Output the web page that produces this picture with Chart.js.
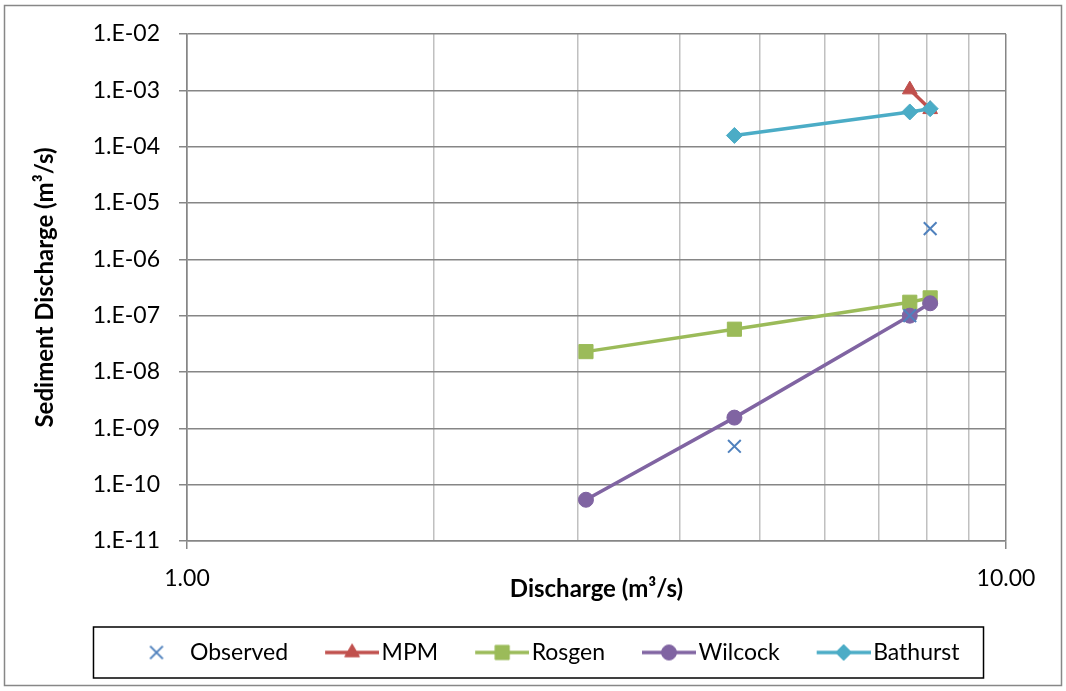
<!DOCTYPE html>
<html>
<head>
<meta charset="utf-8">
<script src="https://cdn.jsdelivr.net/npm/chart.js@4.4.1/dist/chart.umd.min.js"></script>
<style>
  html, body { margin: 0; padding: 0; background: #fff; }
  #wrap { width: 1066px; height: 691px; position: relative; }
</style>
</head>
<body>
<div id="wrap"><canvas id="chart" width="1066" height="691"></canvas></div>
<script>
// discharge (m3/s) shared by all series
const discharge = [3.07, 4.66, 7.63, 8.08];

// sediment discharge (m3/s), null = no value
const observed = [null, 4.8e-10, 1.0e-7, 3.5e-6];
const mpm      = [null, null, 1.03e-3, 4.6e-4];
const rosgen   = [2.3e-8, 5.75e-8, 1.73e-7, 2.07e-7];
const wilcock  = [5.4e-11, 1.55e-9, 1.0e-7, 1.66e-7];
const bathurst = [null, 1.58e-4, 4.13e-4, 4.72e-4];

const seriesNames = ['Observed', 'MPM', 'Rosgen', 'Wilcock', 'Bathurst'];

// axis ticks
const xTickValues = [1, 2, 3, 4, 5, 6, 7, 8, 9, 10];
const xTickLabels = { 1: '1.00', 10: '10.00' };
const yExponents = [-11, -10, -9, -8, -7, -6, -5, -4, -3, -2];

const toPoints = ys => discharge
  .map((x, i) => ({ x: x, y: ys[i] }))
  .filter(p => p.y !== null);

const isMajorX = v => v === 1 || v === 10;

// картинка для легенды: линия + маркер
function legendIcon(style, color, radius, withLine) {
  const c = document.createElement('canvas');
  c.width = 90;
  c.height = 22;
  const ctx = c.getContext('2d');
  ctx.strokeStyle = color;
  ctx.fillStyle = color;
  let cx = 59;
  if (withLine) {
    ctx.lineWidth = 3.5;
    ctx.beginPath();
    ctx.moveTo(36, 11);
    ctx.lineTo(90, 11);
    ctx.stroke();
    cx = 63;
  }
  ctx.lineWidth = withLine ? 1 : 2;
  Chart.helpers.drawPoint(ctx, { pointStyle: style, radius: radius, rotation: 0, borderWidth: ctx.lineWidth }, cx, 11);
  return c;
}

const frame = {
  id: 'frame',
  beforeDraw(chart) {
    const ctx = chart.ctx;
    ctx.save();
    ctx.fillStyle = '#fff';
    ctx.fillRect(0, 0, chart.width, chart.height);
    ctx.strokeStyle = '#878787';
    ctx.lineWidth = 1.5;
    ctx.strokeRect(4.5, 5.5, 1057, 680);
    ctx.restore();
  },
  afterDraw(chart) {
    const lg = chart.legend;
    if (!lg || !lg.legendHitBoxes.length) return;
    const boxes = lg.legendHitBoxes;
    const left = Math.min(...boxes.map(b => b.left)) - 13;
    const right = Math.max(...boxes.map(b => b.left + b.width)) + 24;
    const ctx = chart.ctx;
    ctx.save();
    ctx.strokeStyle = '#000';
    ctx.lineWidth = 1.5;
    ctx.strokeRect(left, lg.top - 4, right - left, lg.height + 8);
    ctx.restore();
  }
};

function draw() {
  Chart.defaults.font.family = 'Lato, "Open Sans", sans-serif';
  Chart.defaults.font.size = 23;
  Chart.defaults.color = '#000';

  const styles = [
    { data: observed, color: '#4F81BD', style: 'crossRot', r: 9, line: false, order: 0 },
    { data: mpm,      color: '#C0504D', style: 'triangle', r: 8.5, line: true, order: 4 },
    { data: rosgen,   color: '#9BBB59', style: 'rect',     r: 10, line: true, order: 3 },
    { data: wilcock,  color: '#8064A2', style: 'circle',   r: 7.5, line: true, order: 2 },
    { data: bathurst, color: '#4BACC6', style: 'rectRot',  r: 8, line: true, order: 1 }
  ];

  const icons = styles.map(s => legendIcon(s.style, s.color, s.r, s.line));

  const datasets = styles.map((s, i) => ({
    label: seriesNames[i],
    data: toPoints(s.data),
    showLine: s.line,
    borderColor: s.color,
    backgroundColor: s.color,
    borderWidth: 3.5,
    pointStyle: s.style,
    pointRadius: s.r,
    pointHoverRadius: s.r,
    pointBackgroundColor: s.color,
    pointBorderColor: s.color,
    pointBorderWidth: s.line ? 1 : 2,
    order: s.order
  }));

  new Chart(document.getElementById('chart'), {
    type: 'scatter',
    data: { datasets: datasets },
    options: {
      responsive: false,
      devicePixelRatio: 1,
      animation: false,
      events: [],
      layout: { padding: { left: 0, right: 0, top: 34, bottom: 17 } },
      plugins: {
        tooltip: { enabled: false },
        legend: {
          position: 'bottom',
          labels: {
            usePointStyle: true,
            pointStyleWidth: 72,
            padding: 10,
            color: '#000',
            font: { size: 23 },
            generateLabels: chart => chart.data.datasets.map((ds, i) => ({
              text: ds.label,
              pointStyle: icons[i],
              fillStyle: ds.borderColor,
              strokeStyle: ds.borderColor,
              lineWidth: 0,
              hidden: false,
              datasetIndex: i
            }))
          }
        }
      },
      scales: {
        x: {
          type: 'logarithmic',
          position: 'bottom',
          min: 1,
          max: 10,
          afterBuildTicks: s => { s.ticks = xTickValues.map(v => ({ value: v })); },
          afterFit: s => { s.height = 90; },
          ticks: {
            autoSkip: false,
            maxRotation: 0,
            padding: 16,
            color: '#000',
            callback: v => xTickLabels[v] || ''
          },
          grid: {
            color: c => (c.tick && isMajorX(c.tick.value)) ? '#868686' : '#c0c0c0',
            lineWidth: 1.5,
            tickLength: 8,
            tickColor: c => (c.tick && isMajorX(c.tick.value)) ? '#868686' : 'rgba(0,0,0,0)'
          },
          border: { color: '#868686', width: 1.5 },
          title: {
            display: true,
            text: 'Discharge (m³/s)',
            color: '#000',
            font: { size: 24, weight: 'bold' },
            padding: { top: 0, bottom: 27 }
          }
        },
        y: {
          type: 'logarithmic',
          position: 'left',
          min: 1e-11,
          max: 1e-2,
          afterBuildTicks: s => { s.ticks = yExponents.map(e => ({ value: Number('1e' + e) })); },
          afterFit: s => { s.width = 187; },
          ticks: {
            autoSkip: false,
            padding: 19,
            color: '#000',
            callback: v => {
              const e = Math.round(Math.log10(v));
              return '1.E' + (e < 0 ? '-' : '+') + String(Math.abs(e)).padStart(2, '0');
            }
          },
          grid: { color: '#868686', lineWidth: 1.5, tickLength: 8, tickColor: '#868686' },
          border: { color: '#868686', width: 1.5 },
          title: {
            display: true,
            text: 'Sediment Discharge (m³/s)',
            color: '#000',
            font: { size: 24, weight: 'bold' },
            padding: { top: 31, bottom: 0 }
          }
        },
        yr: {
          type: 'linear',
          position: 'right',
          display: true,
          grid: { display: false },
          ticks: { display: false },
          border: { display: false },
          afterFit: s => { s.width = 60; }
        }
      }
    },
    plugins: [frame]
  });
}

if (document.fonts && document.fonts.load) {
  Promise.all([
    document.fonts.load('23px Lato'),
    document.fonts.load('bold 24px Lato')
  ]).then(draw, draw);
} else {
  draw();
}
</script>
</body>
</html>
